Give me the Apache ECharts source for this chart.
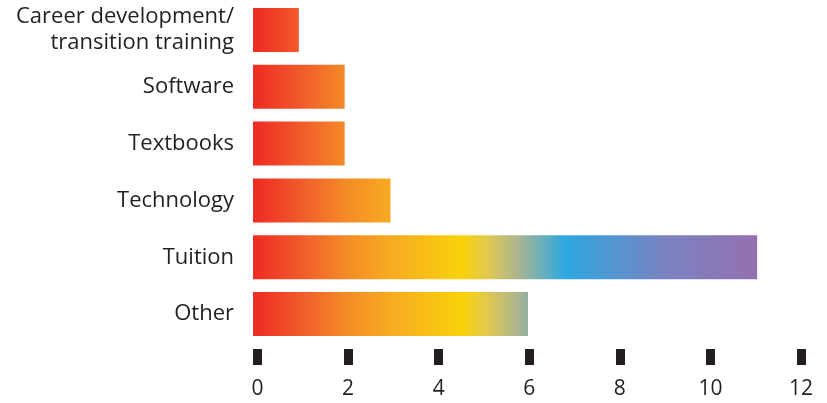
<!DOCTYPE html>
<html>
<head>
<meta charset="utf-8">
<script src="https://cdn.jsdelivr.net/npm/echarts@6/dist/echarts.min.js"></script>
<style>
html,body{margin:0;padding:0;background:#fff;}
#c{width:827px;height:403px;}
</style>
</head>
<body>
<div id="c"></div>
<script>
var categories = ['Career development/\ntransition training', 'Software', 'Textbooks', 'Technology', 'Tuition', 'Other'];
var values = [1, 2, 2, 3, 11, 6];
var tickLabels = [0, 2, 4, 6, 8, 10, 12];

// gradient stops in data units (colour along the value axis)
var gradStops = [
  [0, '#ee2a24'], [1.2, '#f1622a'], [2, '#f48a27'], [3, '#f7aa22'],
  [4.57, '#f9d20a'], [5.1, '#e2c94e'], [5.8, '#a9b592'], [6.8, '#2ea8e0'],
  [9, '#7b82c0'], [11, '#9570b0']
];

function hex(c){return [parseInt(c.substr(1,2),16),parseInt(c.substr(3,2),16),parseInt(c.substr(5,2),16)];}
function toHex(a){return '#'+a.map(function(v){var s=Math.round(v).toString(16);return s.length<2?'0'+s:s;}).join('');}
function colorAt(v){
  for(var i=0;i<gradStops.length-1;i++){
    var a=gradStops[i],b=gradStops[i+1];
    if(v>=a[0]&&v<=b[0]){
      var t=(v-a[0])/(b[0]-a[0]);var ca=hex(a[1]),cb=hex(b[1]);
      return toHex([ca[0]+(cb[0]-ca[0])*t,ca[1]+(cb[1]-ca[1])*t,ca[2]+(cb[2]-ca[2])*t]);
    }
  }
  return gradStops[gradStops.length-1][1];
}
function barGradient(v){
  var stops=[];
  gradStops.forEach(function(s){ if(s[0]<v) stops.push({offset:s[0]/v,color:s[1]}); });
  stops.push({offset:1,color:colorAt(v)});
  return new echarts.graphic.LinearGradient(0,0,1,0,stops);
}

var chart = echarts.init(document.getElementById('c'), null, {renderer:'canvas'});
chart.setOption({
  animation:false,
  grid:[
    {left:253, right:24, top:1.5, height:341},
    {left:257.5, right:26, top:349, height:16}
  ],
  xAxis:[
    {gridIndex:0, type:'value', min:0, max:12, show:false},
    {gridIndex:1, type:'value', min:0, max:12, interval:2, position:'bottom',
     axisLine:{show:false}, splitLine:{show:false},
     axisTick:{show:true, inside:true, length:16, lineStyle:{color:'#231f20', width:9}},
     axisLabel:{margin:14, fontSize:21, color:'#231f20', fontFamily:'Open Sans',
       formatter:function(v){return tickLabels.indexOf(v)>=0?String(v):'';}}}
  ],
  yAxis:[
    {gridIndex:0, type:'category', data:categories, inverse:true,
     axisLine:{show:false}, axisTick:{show:false}, splitLine:{show:false},
     axisLabel:{margin:19, fontSize:22, lineHeight:26, padding:[5,0,0,0], color:'#231f20', fontFamily:'Open Sans'}},
    {gridIndex:1, type:'value', show:false}
  ],
  series:[{
    type:'bar', xAxisIndex:0, yAxisIndex:0, barWidth:44,
    data: values.map(function(v){return {value:v, itemStyle:{color:barGradient(v)}};})
  }]
});
</script>
</body>
</html>
